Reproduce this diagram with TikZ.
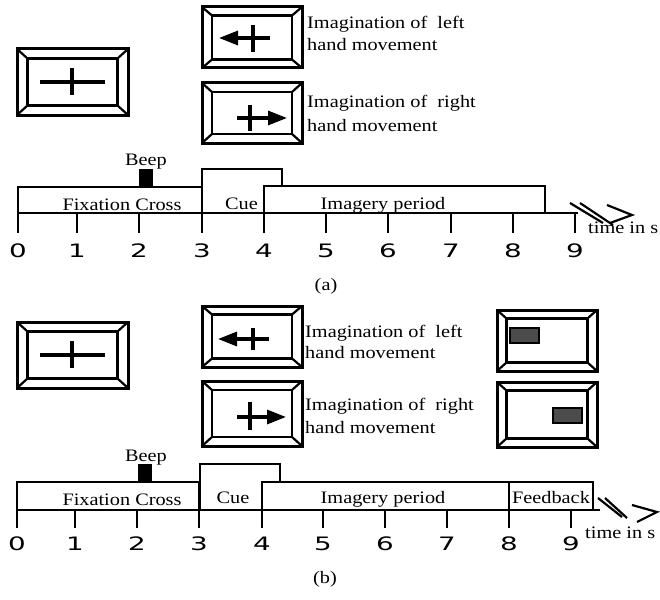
\documentclass[tikz,border=0pt]{standalone}
\usepackage{fontspec}
\setmainfont{Liberation Serif}
\newfontfamily\digitfont{DejaVu Sans}
\usetikzlibrary{arrows.meta}

% a monitor: outer frame, inner screen and the four bevel lines between them
% #1 name, #2/#3 centre, #4/#5 outer size, #6/#7 inner size
\newcommand\screen[7]{%
  \node[frame, minimum width=#4, minimum height=#5] (#1) at (#2,#3) {};
  \node[screenin, minimum width=#6, minimum height=#7] (#1-in) at (#2,#3) {};
  \foreach \c in {north west,north east,south west,south east}
    \draw[bevel] (#1.\c) -- (#1-in.\c);
}

\begin{document}
\begin{tikzpicture}[x=1pt,y=-1pt,
  frame/.style={draw, line width=3pt, inner sep=0pt, outer sep=0pt, fill=white},
  screenin/.style={draw, line width=2.6pt, inner sep=0pt, outer sep=0pt},
  bevel/.style={line width=2.2pt},
  glyph/.style={line width=3.2pt},
  cuearrow/.style={line width=3.2pt, -{Triangle[length=19pt,width=14pt]}},
  seg/.style={line width=2.8pt, fill=white},
  axisline/.style={line width=2.8pt},
  tickline/.style={line width=2.8pt},
  brk/.style={line width=2.2pt},
  txt/.style={font=\fontsize{17.5}{20}\selectfont, inner sep=0pt, xscale=1.16, anchor=base},
  txtl/.style={txt, anchor=base west},
  num/.style={font=\digitfont\fontsize{18.5}{20}\selectfont, inner sep=0pt, xscale=1.5, anchor=base},
  bar/.style={draw, line width=1.5pt, fill=black!70},
]
\useasboundingbox (0,0) rectangle (660,599);

% ---------------- (a) ----------------
\screen{fixA}{72.5}{82}{111}{66}{90}{47}
\draw[glyph] (40,82) -- (105,82);
\draw[glyph] (72,68) -- (72,95);

\screen{leftA}{252}{37.5}{100}{61}{80}{44}
\draw[cuearrow] (270,38) -- (219,38);
\draw[glyph] (253,25) -- (253,52);

\screen{rightA}{252}{113}{100}{60}{80}{42}
\draw[cuearrow] (237,118) -- (287,118);
\draw[glyph] (250,105) -- (250,131);

\node[txtl] (lA1) at (307,29) {Imagination of\ \ left};
\node[txtl] (lA2) at (307,51) {hand movement};
\node[txtl] (rA1) at (307,107) {Imagination of\ \ right};
\node[txtl] (rA2) at (307,131) {hand movement};

% timeline
\draw[seg] (18,187) rectangle (202,213);
\draw[seg] (202,169) rectangle (282,213);
\draw[seg] (264,186) rectangle (545,213);
\fill (139,169) rectangle (153,187);
\draw[axisline] (18,213) -- (578,213);
\foreach \n/\x in {0/18,1/77,2/139,3/202,4/264,5/326,6/388,7/451,8/513,9/575}{
  \draw[tickline] (\x,213) -- (\x,233);
  \node[num] (tA\n) at (\x,257) {\n};
}
\draw[brk] (570,203) -- (603,223);
\draw[brk] (580,203) -- (613,225);
\draw[brk] (607,205) -- (632,215) -- (610,223);

\node[txt] (beepA) at (146,165) {Beep};
\node[txt] (fixtA) at (122,210) {Fixation Cross};
\node[txt] (cueA) at (241.5,209) {Cue};
\node[txt] (imgA) at (383,209) {Imagery period};
\node[txtl] (timeA) at (588,233) {time in s};
\node[txt] (capA) at (326,290) {(a)};

% ---------------- (b) ----------------
\screen{fixB}{72.5}{355}{111}{66}{90}{47}
\draw[glyph] (40,355) -- (105,355);
\draw[glyph] (72,341) -- (72,368);

\screen{leftB}{252}{336.5}{100}{61}{80}{44}
\draw[cuearrow] (269,339) -- (218,339);
\draw[glyph] (253,328) -- (253,350);

\screen{rightB}{252}{413.5}{100}{65}{80}{47}
\draw[cuearrow] (237,417) -- (286,417);
\draw[glyph] (250,402) -- (250,430);

\screen{fbL}{547}{340.5}{100}{61}{81}{44}
\node[bar, minimum width=29, minimum height=15, inner sep=0pt] (barL) at (524.5,335.5) {};
\screen{fbR}{547}{414.5}{100}{65}{81}{48}
\node[bar, minimum width=29, minimum height=15, inner sep=0pt] (barR) at (567.5,415.5) {};

\node[txtl] (lB1) at (305,337) {Imagination of\ \ left};
\node[txtl] (lB2) at (305,358) {hand movement};
\node[txtl] (rB1) at (305,410) {Imagination of\ \ right};
\node[txtl] (rB2) at (305,433) {hand movement};

% timeline
\draw[seg] (17,482) rectangle (199,510);
\draw[seg] (200,464) rectangle (280,510);
\draw[seg] (262,482) rectangle (509,510);
\draw[seg] (509,482) rectangle (593,510);
\fill (138,464) rectangle (152,482);
\draw[axisline] (17,510) -- (600,510);
\foreach \n/\x in {0/17,1/75,2/137,3/199,4/262,5/323,6/385,7/447,8/509,9/571}{
  \draw[tickline] (\x,510) -- (\x,528);
  \node[num] (tB\n) at (\x,550) {\n};
}
\draw[brk] (598,498) -- (622,517);
\draw[brk] (605,498) -- (627,518);
\draw[brk] (632,505) -- (657,512) -- (637,522);

\node[txt] (beepB) at (146,461) {Beep};
\node[txt] (fixtB) at (122,505) {Fixation Cross};
\node[txt] (cueB) at (233,503) {Cue};
\node[txt] (imgB) at (383,503) {Imagery period};
\node[txt] (fbB) at (551,503) {Feedback};
\node[txtl] (timeB) at (585,538) {time in s};
\node[txt] (capB) at (325,583) {(b)};
\end{tikzpicture}
\end{document}
